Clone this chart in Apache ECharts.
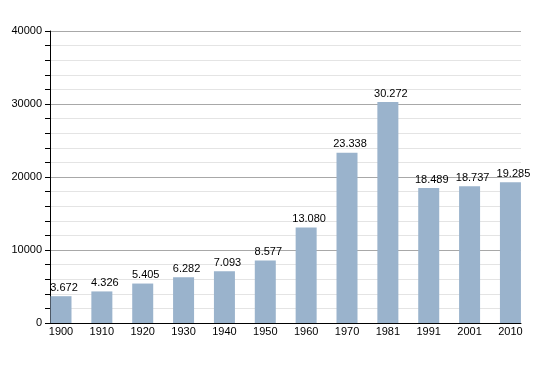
<!DOCTYPE html>
<html><head><meta charset="utf-8">
<script src="https://cdn.jsdelivr.net/npm/echarts@6/dist/echarts.min.js"></script>
<style>html,body{margin:0;padding:0;background:#fff}#c{width:550px;height:373px}</style>
</head><body><div id="c"></div>
<script>
const years = ['1900','1910','1920','1930','1940','1950','1960','1970','1981','1991','2001','2010'];
const population = [3672,4326,5405,6282,7093,8577,13080,23338,30272,18489,18737,19285];
const yTicks = [0,10000,20000,30000,40000];

const fmt = v => String(v).replace(/\B(?=(\d{3})+(?!\d))/g, '.');
const font = 'Liberation Sans, Arial, sans-serif';
const chart = echarts.init(document.getElementById('c'), null, {renderer:'canvas'});
chart.setOption({
  animation:false,
  grid:[
    {left:50, right:29, top:31, bottom:50},
    {left:40.57, width:490.3, top:31, bottom:50}
  ],
  xAxis:[
    {gridIndex:0, type:'category', data:years, axisLine:{lineStyle:{color:'#000',width:1}}, axisTick:{show:false}, axisLabel:{show:false}, splitLine:{show:false}},
    {gridIndex:1, type:'category', data:years, axisLine:{show:false}, axisTick:{show:false},
     axisLabel:{color:'#000', fontSize:11, fontFamily:font, margin:3}}
  ],
  yAxis:[
    {gridIndex:0, type:'value', min:yTicks[0], max:yTicks[yTicks.length-1], interval:10000,
     axisLine:{show:true, lineStyle:{color:'#000'}},
     axisTick:{show:true, inside:false, length:5, lineStyle:{color:'#000'}},
     minorTick:{show:true, splitNumber:5, length:5, lineStyle:{color:'#000'}},
     splitLine:{show:true, lineStyle:{color:'#a8a8a8'}},
     minorSplitLine:{show:true, lineStyle:{color:'#e4e4e4'}},
     axisLabel:{color:'#000', fontSize:11, fontFamily:font, margin:8, formatter:v=>String(v)}},
    {gridIndex:1, type:'value', min:0, max:40000, show:false, splitLine:{show:false}}
  ],
  series:[{
    type:'bar', xAxisIndex:1, yAxisIndex:1, data:population, barWidth:21,
    itemStyle:{color:'#9ab3cc'},
    label:{show:true, position:'top', distance:3, offset:[3,0], color:'#000', fontSize:11, fontFamily:font, formatter:p=>fmt(p.value)}
  }]
});
</script></body></html>
